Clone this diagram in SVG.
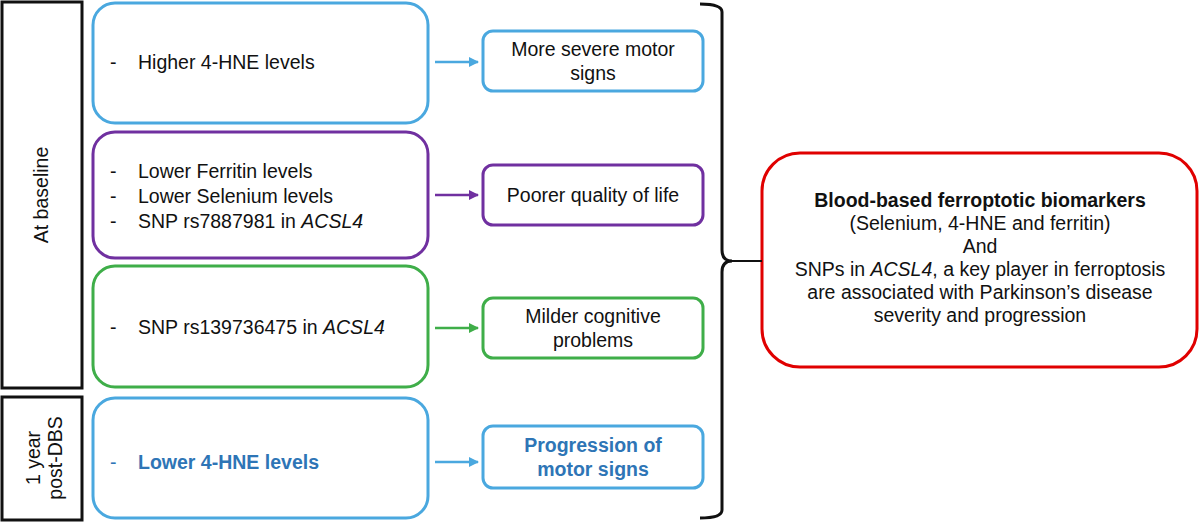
<svg xmlns="http://www.w3.org/2000/svg" width="1200" height="523" viewBox="0 0 1200 523">
<style>
text{font-family:"Liberation Sans",Arial,sans-serif;font-size:19.5px;fill:#111}
.lab{fill:#fff;stroke:#111;stroke-width:3}
.b{fill:#fff;stroke:#4aa8df;stroke-width:3}
.p{fill:#fff;stroke:#7030a0;stroke-width:3}
.g{fill:#fff;stroke:#3fae49;stroke-width:3}
.r{fill:#fff;stroke:#e00000;stroke-width:3}
.bt{fill:#2e75b6;font-weight:bold}
</style>
<defs>
<marker id="ab" viewBox="0 0 10 10" refX="9" refY="5" markerWidth="4" markerHeight="4" orient="auto"><path d="M0,0L10,5L0,10z" fill="#4aa8df"/></marker>
<marker id="ap" viewBox="0 0 10 10" refX="9" refY="5" markerWidth="4" markerHeight="4" orient="auto"><path d="M0,0L10,5L0,10z" fill="#7030a0"/></marker>
<marker id="ag" viewBox="0 0 10 10" refX="9" refY="5" markerWidth="4" markerHeight="4" orient="auto"><path d="M0,0L10,5L0,10z" fill="#3fae49"/></marker>
</defs>
<g id="baseline"><rect class="lab" x="2" y="2" width="80" height="386"/><text transform="translate(48,195) rotate(-90)" text-anchor="middle">At baseline</text></g>
<g id="postdbs"><rect class="lab" x="2" y="397" width="80" height="123"/><text transform="translate(40,458) rotate(-90)" text-anchor="middle">1 year</text><text transform="translate(62,458) rotate(-90)" text-anchor="middle">post-DBS</text></g>
<g id="c1"><rect class="b" x="93" y="3" width="335" height="120" rx="22"/><text x="110" y="69">-</text><text x="138" y="69">Higher 4-HNE levels</text></g>
<g id="c2"><rect class="p" x="93" y="132" width="335" height="126" rx="22"/><text x="110" y="178">-</text><text x="138" y="178">Lower Ferritin levels</text><text x="110" y="203">-</text><text x="138" y="203">Lower Selenium levels</text><text x="110" y="228">-</text><text x="138" y="228">SNP rs7887981  in <tspan font-style="italic">ACSL4</tspan></text></g>
<g id="c3"><rect class="g" x="93" y="266" width="335" height="121" rx="22"/><text x="110" y="334">-</text><text x="138" y="334">SNP rs139736475 in <tspan font-style="italic">ACSL4</tspan></text></g>
<g id="c4"><rect class="b" x="93" y="398" width="335" height="120" rx="22"/><text x="110" y="469" class="bt" style="font-weight:normal">-</text><text x="138" y="469" class="bt">Lower 4-HNE levels</text></g>
<g id="o1"><rect class="b" x="483" y="31" width="220" height="60" rx="10"/><text x="593" y="56" text-anchor="middle">More severe motor</text><text x="593" y="80" text-anchor="middle">signs</text></g>
<g id="o2"><rect class="p" x="483" y="165" width="220" height="60" rx="10"/><text x="593" y="202" text-anchor="middle">Poorer quality of life</text></g>
<g id="o3"><rect class="g" x="483" y="298" width="220" height="60" rx="10"/><text x="593" y="323" text-anchor="middle">Milder cognitive</text><text x="593" y="347" text-anchor="middle">problems</text></g>
<g id="o4"><rect class="b" x="483" y="426" width="220" height="62" rx="10"/><text x="593" y="452" text-anchor="middle" class="bt">Progression of</text><text x="593" y="476" text-anchor="middle" class="bt">motor signs</text></g>
<g id="summary"><rect class="r" x="762" y="153" width="435" height="214" rx="38"/>
<text x="980" y="207" text-anchor="middle" font-weight="bold">Blood-based ferroptotic biomarkers</text>
<text x="980" y="230" text-anchor="middle">(Selenium, 4-HNE and ferritin)</text>
<text x="980" y="253" text-anchor="middle">And</text>
<text x="980" y="276" text-anchor="middle">SNPs in <tspan font-style="italic">ACSL4</tspan>, a key player in ferroptosis</text>
<text x="980" y="299" text-anchor="middle">are associated with Parkinson’s disease</text>
<text x="980" y="322" text-anchor="middle">severity and progression</text></g>
<g id="connectors" fill="none" stroke-width="2.5">
<line x1="435" y1="62" x2="478" y2="62" stroke="#4aa8df" marker-end="url(#ab)"/>
<line x1="435" y1="195" x2="478" y2="195" stroke="#7030a0" marker-end="url(#ap)"/>
<line x1="435" y1="328" x2="478" y2="328" stroke="#3fae49" marker-end="url(#ag)"/>
<line x1="435" y1="462" x2="478" y2="462" stroke="#4aa8df" marker-end="url(#ab)"/>
<path d="M700,4 Q722,4 722,12 L722,250 Q722,261 732,261 Q722,261 722,272 L722,510 Q722,518 700,518" stroke="#111" stroke-width="3"/>
<line x1="732" y1="261" x2="762" y2="261" stroke="#111" stroke-width="2"/>
</g>
</svg>
